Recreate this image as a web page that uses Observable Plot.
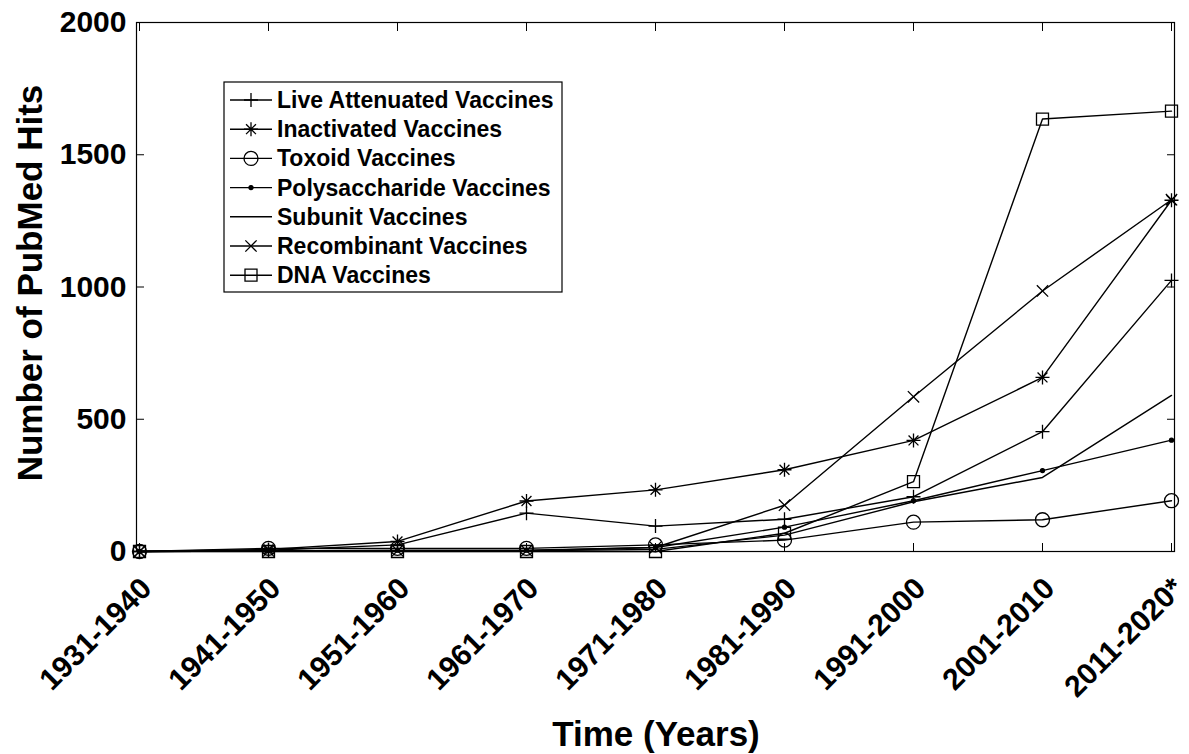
<!DOCTYPE html>
<html><head><meta charset="utf-8">
<script src="https://cdn.jsdelivr.net/npm/d3@7"></script>
<script src="https://cdn.jsdelivr.net/npm/@observablehq/plot@0.6"></script>
<style>
html,body{margin:0;padding:0;background:#fff;}
#chart{width:1189px;height:754px;overflow:hidden;}
</style></head><body><div id="chart"></div>
<script>
// ---- data ----
const periods = ["1931-1940","1941-1950","1951-1960","1961-1970","1971-1980","1981-1990","1991-2000","2001-2010","2011-2020*"];
const seriesNames = ["Live Attenuated Vaccines","Inactivated Vaccines","Toxoid Vaccines","Polysaccharide Vaccines","Subunit Vaccines","Recombinant Vaccines","DNA Vaccines"];
const liveAttenuated = [0, 5, 25, 145, 96, 122, 207, 453, 1025];
const inactivated    = [0, 8, 38, 191, 233, 309, 420, 658, 1328];
const toxoid         = [0, 12, 12, 12, 25, 43, 111, 120, 192];
const polysaccharide = [0, 3, 5, 5, 15, 92, 192, 306, 421];
const subunit        = [0, 2, 3, 3, 8, 62, 188, 280, 590];
const recombinant    = [0, 2, 3, 3, 15, 175, 585, 985, 1330];
const dna            = [0, 0, 0, 0, 0, 69, 264, 1635, 1665];
const yTicks = [0, 500, 1000, 1500, 2000];
const xLabel = "Time (Years)";
const yLabel = "Number of PubMed Hits";

// ---- marker symbols ----
function sym(fn){ return {draw(c, size){ const r = Math.sqrt(size/Math.PI); fn(c, r); }}; }
const symPlus = sym((c,r)=>{c.moveTo(-r,0);c.lineTo(r,0);c.moveTo(0,-r);c.lineTo(0,r);});
const symAst = sym((c,r)=>{const d=r*Math.SQRT1_2;c.moveTo(-r,0);c.lineTo(r,0);c.moveTo(0,-r);c.lineTo(0,r);c.moveTo(-d,-d);c.lineTo(d,d);c.moveTo(-d,d);c.lineTo(d,-d);});
const symCircle = sym((c,r)=>{c.moveTo(r,0);c.arc(0,0,r,0,2*Math.PI);c.closePath();});
const symTimes = sym((c,r)=>{const d=r*Math.SQRT1_2;c.moveTo(-d,-d);c.lineTo(d,d);c.moveTo(-d,d);c.lineTo(d,-d);});
const symSquare = sym((c,r)=>{c.rect(-r,-r,2*r,2*r);});

const valueLists = [liveAttenuated, inactivated, toxoid, polysaccharide, subunit, recombinant, dna];
const markerStyles = [
  {symbol: symPlus, r: 7, fill: "none"},
  {symbol: symAst, r: 7, fill: "none"},
  {symbol: symCircle, r: 7, fill: "none"},
  {symbol: symCircle, r: 2, fill: "black"},
  null,
  {symbol: symTimes, r: 8, fill: "none"},
  {symbol: symSquare, r: 6, fill: "none"}
];

const rows = [];
seriesNames.forEach((s, i) => valueLists[i].forEach((v, j) => rows.push({series: s, period: periods[j], value: v})));

const FONT = "'Liberation Sans', Arial, Helvetica, sans-serif";

const marks = [
  Plot.line(rows, {x: "period", y: "value", z: "series", stroke: "black", strokeWidth: 1.4}),
];
seriesNames.forEach((s, i) => {
  const m = markerStyles[i];
  if (!m) return;
  marks.push(Plot.dot(rows.filter(d => d.series === s), {x: "period", y: "value", symbol: m.symbol, r: m.r, stroke: "black", strokeWidth: 1.3, fill: m.fill}));
});
marks.push(
  Plot.frame({stroke: "black", strokeWidth: 1.2}),
  Plot.axisY({anchor: "left", ticks: yTicks, tickFormat: d3.format("d"), tickSize: 0, tickPadding: 10, fontSize: 30, fontWeight: "bold", label: null}),
  Plot.axisY({anchor: "left", ticks: yTicks, tickSize: 8, dx: 8, fill: "none", label: null}),
  Plot.axisY({anchor: "right", ticks: yTicks, tickSize: 8, dx: -8, fill: "none", label: null}),
  Plot.axisX({anchor: "bottom", tickSize: 0, tickRotate: -45, tickPadding: 3, dx: 7, dy: 29, fontSize: 30, fontWeight: "bold", label: null}),
  Plot.axisX({anchor: "bottom", tickSize: 8, dy: -8, fill: "none", label: null}),
  Plot.axisX({anchor: "top", tickSize: 8, dy: 8, fill: "none", label: null})
);

const chart = Plot.plot({
  width: 1189, height: 754,
  marginLeft: 136, marginRight: 15, marginTop: 22, marginBottom: 203,
  style: {fontFamily: FONT, color: "black", background: "white", overflow: "visible"},
  x: {type: "point", domain: periods, padding: 0, label: null},
  y: {domain: [0, 2000], label: null},
  marks
});
document.getElementById("chart").appendChild(chart);

const svg = d3.select(chart);

// ---- axis titles ----
svg.append("text").attr("x", 656).attr("y", 746).attr("text-anchor", "middle")
  .attr("font-family", FONT).attr("font-weight", "bold").attr("font-size", 35).attr("fill", "black").text(xLabel);
svg.append("text").attr("transform", "translate(42,283) rotate(-90)").attr("text-anchor", "middle")
  .attr("font-family", FONT).attr("font-weight", "bold").attr("font-size", 35).attr("fill", "black").text(yLabel);

// ---- legend ----
const lg = svg.append("g").attr("font-family", FONT).attr("font-weight", "bold").attr("font-size", 23).attr("text-anchor", "start");
const lx = 224, ly = 82, lw = 338, lh = 210, rowH = 29.2, row0 = 100;
lg.append("rect").attr("x", lx).attr("y", ly).attr("width", lw).attr("height", lh).attr("fill", "white").attr("stroke", "black").attr("stroke-width", 1.2);
seriesNames.forEach((s, i) => {
  const y = row0 + i * rowH;
  lg.append("line").attr("x1", lx + 6).attr("x2", lx + 48).attr("y1", y).attr("y2", y).attr("stroke", "black").attr("stroke-width", 1.4);
  const m = markerStyles[i];
  if (m) {
    lg.append("path").attr("d", d3.symbol(m.symbol, Math.PI * m.r * m.r)()).attr("transform", `translate(${lx + 27},${y})`)
      .attr("fill", m.fill).attr("stroke", "black").attr("stroke-width", 1.3);
  }
  lg.append("text").attr("x", lx + 53).attr("y", y).attr("dy", "0.35em").attr("fill", "black").text(s);
});
</script></body></html>
